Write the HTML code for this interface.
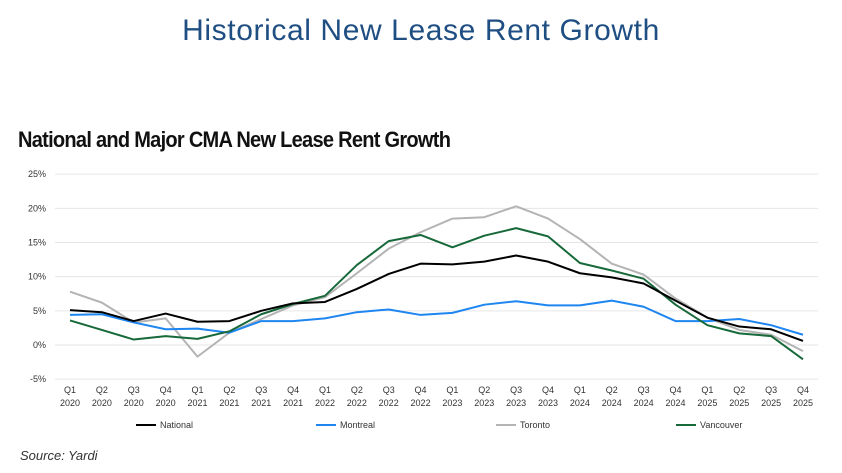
<!DOCTYPE html>
<html><head><meta charset="utf-8"><style>
body{margin:0;width:842px;height:473px;background:#fff;font-family:"Liberation Sans",sans-serif;overflow:hidden;position:relative}
.t{position:absolute;left:0;width:842px;text-align:center;top:14px;font-size:30px;color:#1f4e82;letter-spacing:0.6px}
.s{position:absolute;left:18px;top:127px;font-size:22px;font-weight:bold;color:#111;letter-spacing:-0.8px;transform:scaleX(0.91);transform-origin:left}
.src{position:absolute;left:20px;top:448px;font-size:13px;font-style:italic;color:#333}
</style></head><body>
<div class="t">Historical New Lease Rent Growth</div>
<div class="s">National and Major CMA New Lease Rent Growth</div>
<svg id="c" width="842" height="473" style="position:absolute;left:0;top:0"></svg>
<div class="src">Source: Yardi</div>
<script>
const categories=["Q1 2020","Q2 2020","Q3 2020","Q4 2020","Q1 2021","Q2 2021","Q3 2021","Q4 2021","Q1 2022","Q2 2022","Q3 2022","Q4 2022","Q1 2023","Q2 2023","Q3 2023","Q4 2023","Q1 2024","Q2 2024","Q3 2024","Q4 2024","Q1 2025","Q2 2025","Q3 2025","Q4 2025"];
const national=[5.1,4.8,3.5,4.6,3.4,3.5,5.0,6.1,6.3,8.2,10.4,11.9,11.8,12.2,13.1,12.2,10.5,9.9,9.0,6.5,4.0,2.7,2.3,0.6];
const montreal=[4.4,4.5,3.3,2.3,2.4,1.8,3.5,3.5,3.9,4.8,5.2,4.4,4.7,5.9,6.4,5.8,5.8,6.5,5.6,3.5,3.5,3.8,2.9,1.5];
const toronto=[7.8,6.2,3.3,3.9,-1.7,1.8,3.8,5.8,7.0,10.5,14.1,16.5,18.5,18.7,20.3,18.5,15.5,11.9,10.3,6.8,4.0,2.2,1.5,-0.9];
const vancouver=[3.6,2.2,0.8,1.3,0.9,2.0,4.5,6.0,7.2,11.7,15.2,16.1,14.3,16.0,17.1,15.9,12.0,10.9,9.7,5.9,2.9,1.7,1.3,-2.1];
const yTicks=[25,20,15,10,5,0,-5];
const seriesNames=["National","Montreal","Toronto","Vancouver"];
const NS="http://www.w3.org/2000/svg",svg=document.getElementById('c');
const x=i=>70+i*(733/23), y=v=>345-v*(205/30);
function mk(t,a,txt){const e=document.createElementNS(NS,t);for(const k in a)e.setAttribute(k,a[k]);if(txt!=null)e.textContent=txt;svg.appendChild(e);return e;}
yTicks.forEach(v=>{
 const l=mk('line',{x1:55,x2:818,y1:y(v),y2:y(v),stroke:'#e6e6e6','stroke-width':1});
 
 
 const t=mk('text',{x:46,y:y(v)+3,'text-anchor':'end','font-size':9,fill:'#333'},v+'%');
 
 
});
categories.forEach((c,i)=>{
 const p=c.split(' ');
 const t=mk('text',{x:x(i),y:393,'text-anchor':'middle','font-size':9,fill:'#333'},p[0]);
 
 
 const t2=mk('text',{x:x(i),y:406,'text-anchor':'middle','font-size':9,fill:'#333'},p[1]);
 
 
});
const series=[[national,'#000'],[montreal,'#1e86f0'],[toronto,'#b4b4b4'],[vancouver,'#17693a']];
[2,1,3,0].forEach(k=>{
 const [d,col]=series[k];
 const p=mk('polyline',{points:d.map((v,i)=>x(i)+','+y(v)).join(' '),fill:'none',stroke:col,'stroke-width':2,'stroke-linejoin':'round'});
 
 
});
const lx=[136,316,496,676];
series.forEach(([d,col],k)=>{
 const l=mk('line',{x1:lx[k],x2:lx[k]+20,y1:425,y2:425,stroke:col,'stroke-width':2});
 
 
 const t=mk('text',{x:lx[k]+24,y:428,'font-size':9,fill:'#333'},seriesNames[k]);
 
 
});
</script>
</body></html>
